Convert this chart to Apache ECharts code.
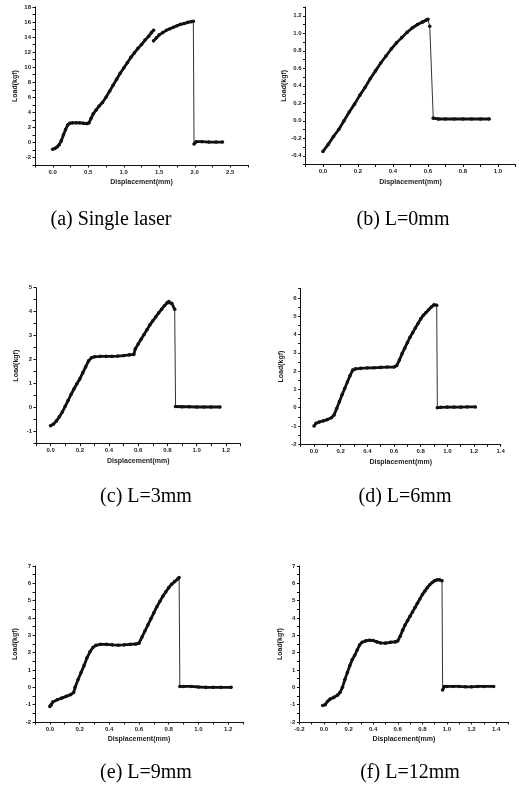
<!DOCTYPE html>
<html>
<head>
<meta charset="utf-8">
<script src="https://cdn.jsdelivr.net/npm/echarts@6/dist/echarts.min.js"></script>
<style>
html,body{margin:0;padding:0;background:#fff;}
#chart{width:519px;height:792px;}
</style>
</head>
<body>
<div id="chart"></div>
<script>
// ---------- data (displacement mm, load kgf) ----------
const captions = ['(a) Single laser', '(b) L=0mm', '(c) L=3mm', '(d) L=6mm', '(e) L=9mm', '(f) L=12mm'];
const xName = 'Displacement(mm)';
const yName = 'Load(kgf)';

// (a) Single laser
const aCurve1 = [[0,-0.9],[0.03,-0.8],[0.06,-0.6],[0.09,-0.3],[0.12,0.2],[0.15,1.0],[0.18,1.7],[0.21,2.3],[0.24,2.55],[0.28,2.6],[0.33,2.6],[0.38,2.6],[0.43,2.55],[0.48,2.5],[0.51,2.6],[0.54,3.2],[0.57,3.8],[0.61,4.3],[0.65,4.8],[0.70,5.3],[0.75,6.0],[0.80,6.8],[0.85,7.6],[0.90,8.4],[0.95,9.2],[1.00,9.9],[1.05,10.6],[1.10,11.3],[1.15,11.9],[1.20,12.5],[1.25,13.0],[1.30,13.6],[1.35,14.1],[1.39,14.6],[1.42,14.9]];
const aCurve2 = [[1.42,13.5],[1.46,13.9],[1.50,14.3],[1.55,14.6],[1.60,14.9],[1.65,15.1],[1.70,15.3],[1.75,15.5],[1.80,15.7],[1.85,15.8],[1.90,15.95],[1.95,16.05],[1.98,16.1]];
const aTail = [[1.99,-0.2],[2.02,0.1],[2.1,0.1],[2.2,0.05],[2.3,0.05],[2.39,0.05]];

// (b) L=0mm
const bCurve = [[0,-0.35],[0.03,-0.27],[0.06,-0.18],[0.09,-0.1],[0.12,0.0],[0.15,0.1],[0.18,0.19],[0.21,0.29],[0.24,0.38],[0.27,0.48],[0.30,0.57],[0.33,0.66],[0.36,0.74],[0.39,0.82],[0.42,0.89],[0.45,0.95],[0.48,1.01],[0.51,1.06],[0.54,1.10],[0.57,1.13],[0.59,1.15],[0.60,1.16]];
const bBreak = [[0.61,1.08]];
const bTail = [[0.63,0.03],[0.66,0.02],[0.70,0.02],[0.75,0.02],[0.80,0.02],[0.85,0.02],[0.90,0.02],[0.95,0.02]];

// (c) L=3mm
const cCurve = [[0,-0.75],[0.02,-0.68],[0.04,-0.55],[0.06,-0.38],[0.08,-0.18],[0.10,0.06],[0.12,0.3],[0.14,0.55],[0.16,0.78],[0.18,1.0],[0.20,1.2],[0.22,1.45],[0.24,1.7],[0.26,1.95],[0.28,2.08],[0.30,2.12],[0.34,2.14],[0.38,2.14],[0.42,2.14],[0.46,2.15],[0.50,2.17],[0.54,2.2],[0.57,2.22],[0.58,2.45],[0.60,2.65],[0.62,2.85],[0.64,3.05],[0.66,3.25],[0.68,3.45],[0.70,3.62],[0.72,3.78],[0.74,3.95],[0.76,4.1],[0.78,4.25],[0.80,4.38],[0.81,4.42],[0.83,4.35],[0.85,4.1]];
const cTail = [[0.856,0.05],[0.9,0.04],[0.95,0.04],[1.0,0.03],[1.05,0.03],[1.1,0.03],[1.16,0.03]];

// (d) L=6mm
const dCurve = [[0,-1.0],[0.015,-0.85],[0.04,-0.78],[0.07,-0.72],[0.10,-0.65],[0.13,-0.55],[0.15,-0.4],[0.17,-0.05],[0.19,0.33],[0.21,0.7],[0.23,1.05],[0.25,1.4],[0.27,1.75],[0.29,2.05],[0.31,2.12],[0.35,2.15],[0.40,2.17],[0.45,2.18],[0.50,2.2],[0.55,2.22],[0.60,2.22],[0.62,2.3],[0.64,2.6],[0.66,2.95],[0.68,3.25],[0.70,3.55],[0.72,3.85],[0.74,4.1],[0.76,4.35],[0.78,4.6],[0.80,4.85],[0.82,5.05],[0.84,5.2],[0.86,5.35],[0.88,5.5],[0.90,5.62],[0.92,5.6]];
const dTail = [[0.925,0.0],[0.95,0.02],[1.0,0.03],[1.05,0.03],[1.1,0.03],[1.15,0.04],[1.21,0.04]];

// (e) L=9mm
const eCurve = [[0,-1.1],[0.01,-1.0],[0.02,-0.85],[0.05,-0.72],[0.08,-0.62],[0.11,-0.52],[0.14,-0.42],[0.16,-0.3],[0.17,0.0],[0.19,0.45],[0.21,0.85],[0.23,1.25],[0.25,1.7],[0.27,2.05],[0.29,2.3],[0.31,2.42],[0.34,2.48],[0.38,2.48],[0.42,2.45],[0.46,2.43],[0.50,2.45],[0.54,2.48],[0.58,2.5],[0.60,2.55],[0.62,2.9],[0.64,3.25],[0.66,3.6],[0.68,3.95],[0.70,4.3],[0.72,4.65],[0.74,4.95],[0.76,5.25],[0.78,5.5],[0.80,5.75],[0.82,5.95],[0.84,6.1],[0.86,6.25],[0.87,6.33]];
const eTail = [[0.875,0.05],[0.9,0.05],[0.95,0.05],[1.0,0.02],[1.05,0.0],[1.1,0.0],[1.15,0.0],[1.22,0.0]];

// (f) L=12mm
const fCurve = [[-0.01,-1.05],[0.01,-1.0],[0.03,-0.8],[0.05,-0.68],[0.08,-0.58],[0.11,-0.45],[0.13,-0.3],[0.15,0.0],[0.17,0.45],[0.19,0.85],[0.21,1.25],[0.23,1.6],[0.25,1.85],[0.27,2.15],[0.29,2.45],[0.31,2.6],[0.34,2.68],[0.37,2.72],[0.40,2.7],[0.43,2.62],[0.46,2.56],[0.50,2.55],[0.54,2.6],[0.58,2.62],[0.60,2.68],[0.62,2.95],[0.64,3.3],[0.66,3.6],[0.68,3.85],[0.70,4.1],[0.72,4.35],[0.74,4.6],[0.76,4.85],[0.78,5.1],[0.80,5.35],[0.82,5.55],[0.84,5.75],[0.86,5.92],[0.88,6.05],[0.90,6.15],[0.92,6.2],[0.94,6.2],[0.96,6.15]];
const fTail = [[0.965,-0.15],[0.98,0.05],[1.0,0.05],[1.05,0.05],[1.1,0.05],[1.15,0.03],[1.2,0.03],[1.25,0.05],[1.3,0.05],[1.38,0.05]];

// axis ranges: [xmin, xmax, xstep, xmajor, xdec, ymin, ymax, ystep, ymajor, ydec]
const axisA = [-0.25, 2.75, 0.25, 0.5, 1, -3, 18, 1, 2, 0];
const axisB = [-0.1, 1.1, 0.1, 0.2, 1, -0.5, 1.3, 0.1, 0.2, 1];
const axisC = [-0.1, 1.3, 0.1, 0.2, 1, -1.5, 5, 0.5, 1, 0];
const axisD = [-0.1, 1.4, 0.1, 0.2, 1, -2, 6.5, 0.5, 1, 0];
const axisE = [-0.1, 1.3, 0.1, 0.2, 1, -2, 7, 0.5, 1, 0];
const axisF = [-0.2, 1.5, 0.1, 0.2, 1, -2, 7, 0.5, 1, 0];

// ---------- layout ----------
const grids = [
  {left: 35, top: 7, width: 213, height: 158},
  {left: 305.5, top: 7, width: 210, height: 157.5},
  {left: 36, top: 287.7, width: 204.4, height: 156},
  {left: 300.7, top: 288.7, width: 200, height: 155.6},
  {left: 35, top: 566, width: 208, height: 156},
  {left: 299.4, top: 566, width: 209, height: 156}
];
const captionPos = [[111, 220], [403, 220], [146, 497], [405, 497], [146, 773], [410, 773]];

const SANS = 'Liberation Sans';
const SERIF = 'Liberation Serif';
const INK = '#111';

function fmt(major, dec) {
  return function (v) {
    const r = v / major;
    if (Math.abs(r - Math.round(r)) > 1e-6) return '';
    const rv = Math.round(v * 1e6) / 1e6;
    return (rv === 0 ? 0 : rv).toFixed(dec);
  };
}

const axes = [axisA, axisB, axisC, axisD, axisE, axisF];
const xAxis = [], yAxis = [];
axes.forEach((a, i) => {
  const common = {
    type: 'value', gridIndex: i, nameLocation: 'middle',
    nameTextStyle: {fontSize: 7, fontFamily: SANS, fontWeight: 'bold', color: '#222'},
    axisLine: {onZero: false, lineStyle: {color: INK, width: 1}},
    axisTick: {length: 2.5, lineStyle: {color: INK, width: 1}},
    splitLine: {show: false}
  };
  xAxis.push(Object.assign({}, common, {
    min: a[0], max: a[1], interval: a[2], name: xName, nameGap: 14,
    axisLabel: {formatter: fmt(a[3], a[4]), fontSize: 6, margin: 4, fontWeight: 'bold', color: '#222', fontFamily: SANS}
  }));
  yAxis.push(Object.assign({}, common, {
    min: a[5], max: a[6], interval: a[7], name: yName, nameGap: 16,
    axisLabel: {formatter: fmt(a[8], a[9]), fontSize: 6, margin: 4, fontWeight: 'bold', color: '#222', fontFamily: SANS}
  }));
});

function thick(i, data) {
  return {type: 'line', xAxisIndex: i, yAxisIndex: i, data: data, showSymbol: true, symbol: 'circle', symbolSize: 3.6,
    lineStyle: {color: INK, width: 2.8}, itemStyle: {color: INK}, silent: true, animation: false, z: 3};
}
function thin(i, data) {
  return {type: 'line', xAxisIndex: i, yAxisIndex: i, data: data, showSymbol: false,
    lineStyle: {color: '#333', width: 1}, silent: true, animation: false, z: 2};
}
const last = arr => arr[arr.length - 1];

const series = [
  thick(0, aCurve1), thick(0, aCurve2), thin(0, [last(aCurve2), aTail[0]]), thick(0, aTail),
  thick(1, bCurve), thick(1, bBreak), thin(1, [last(bCurve), bBreak[0], bTail[0]]), thick(1, bTail),
  thick(2, cCurve), thin(2, [last(cCurve), cTail[0]]), thick(2, cTail),
  thick(3, dCurve), thin(3, [last(dCurve), dTail[0]]), thick(3, dTail),
  thick(4, eCurve), thin(4, [last(eCurve), eTail[0]]), thick(4, eTail),
  thick(5, fCurve), thin(5, [last(fCurve), fTail[0]]), thick(5, fTail)
];

const graphic = captions.map((t, i) => ({
  type: 'text', x: captionPos[i][0], y: captionPos[i][1],
  style: {text: t, font: '20px "' + SERIF + '"', fill: '#000', textAlign: 'center', textVerticalAlign: 'middle'}
}));

const chart = echarts.init(document.getElementById('chart'), null, {renderer: 'canvas'});
chart.setOption({
  backgroundColor: '#fff',
  animation: false,
  grid: grids,
  xAxis: xAxis,
  yAxis: yAxis,
  series: series,
  graphic: graphic
});
</script>
</body>
</html>
